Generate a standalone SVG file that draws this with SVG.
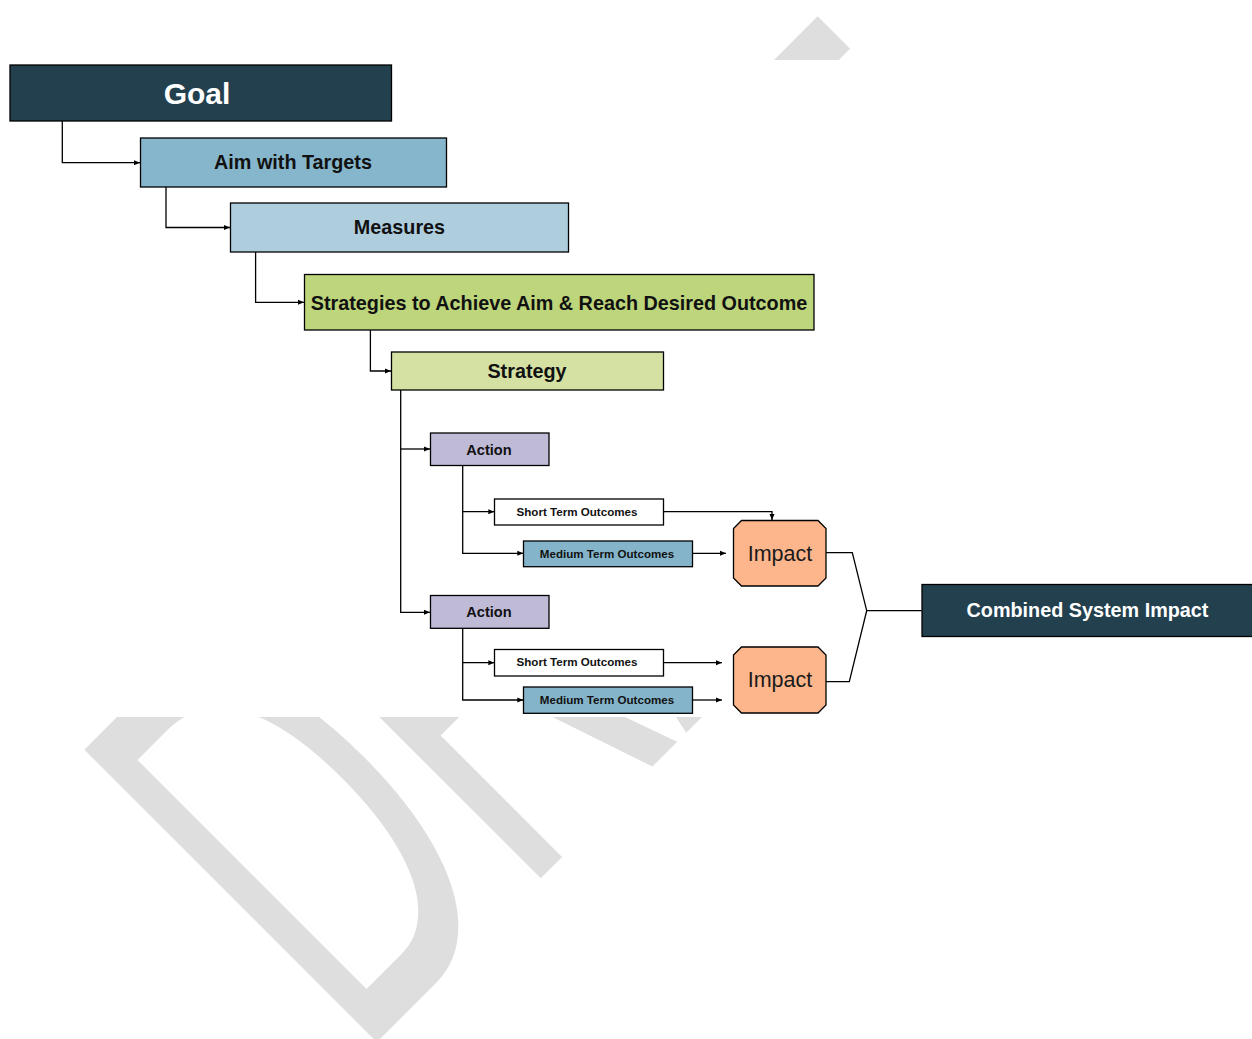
<svg xmlns="http://www.w3.org/2000/svg" width="1252" height="1039" viewBox="0 0 1252 1039">
<style>
.box{stroke:#000;stroke-width:1.3}
.t{font-family:"Liberation Sans",Arial,sans-serif;font-weight:bold;fill:#111;text-anchor:middle}
.w{fill:#fff}
.big{font-size:19.8px}
.act{font-size:14.6px}
.sm{font-size:11.6px}
.imp{font-family:"Liberation Sans",Arial,sans-serif;font-size:21.5px;fill:#1a1a1a;text-anchor:middle}
.c{fill:none;stroke:#000;stroke-width:1.3}
</style>
<defs>
<marker id="ah" markerUnits="userSpaceOnUse" markerWidth="7" markerHeight="6" refX="6" refY="3" orient="auto">
<path d="M0,0.5 L6,3 L0,5.5 z" fill="#000"/>
</marker>
</defs>
<rect x="0" y="0" width="1252" height="1039" fill="#fff"/>
<text transform="translate(358,1061) rotate(-45) scale(1,1.85)" font-family="Liberation Sans,Arial,sans-serif" font-size="325" letter-spacing="-3" fill="#dedede">DRAFT</text>
<rect x="0" y="60" width="1252" height="657" fill="#fff"/>
<g id="connectors">
<path class="c" d="M62.3 121 V162.7 H140" marker-end="url(#ah)"/>
<path class="c" d="M166 187 V227.5 H230" marker-end="url(#ah)"/>
<path class="c" d="M255.6 252 V302.3 H304" marker-end="url(#ah)"/>
<path class="c" d="M370.4 330 V371 H391" marker-end="url(#ah)"/>
<path class="c" d="M400.7 390 V612.3 H430" marker-end="url(#ah)"/>
<path class="c" d="M400.7 449 H430" marker-end="url(#ah)"/>
<path class="c" d="M462.7 465.7 V553.3 H523.3" marker-end="url(#ah)"/>
<path class="c" d="M462.7 511.7 H494.3" marker-end="url(#ah)"/>
<path class="c" d="M462.7 628.3 V700 H523.3" marker-end="url(#ah)"/>
<path class="c" d="M462.7 662.7 H494.3" marker-end="url(#ah)"/>
<path class="c" d="M663.7 511.7 H772 V520" marker-end="url(#ah)"/>
<path class="c" d="M692.7 553.3 H726" marker-end="url(#ah)"/>
<path class="c" d="M663.7 662.7 H722" marker-end="url(#ah)"/>
<path class="c" d="M692.7 700 H722" marker-end="url(#ah)"/>
<path class="c" d="M826 552.7 H852.3 L866.7 610.7 L849.3 681.7 H826"/>
<path class="c" d="M866.7 610.7 H921.7"/>
</g>
<g id="goal">
<rect class="box" x="10" y="65" width="381.5" height="56" fill="#23404f"/>
<text class="t w" x="197" y="103.5" font-size="30" style="fill:#fff">Goal</text>
</g>
<g id="aim">
<rect class="box" x="140.5" y="138" width="306" height="49" fill="#86b6cc"/>
<text class="t big" x="293" y="169.3">Aim with Targets</text>
</g>
<g id="measures">
<rect class="box" x="230.5" y="203" width="338" height="49" fill="#aecede"/>
<text class="t big" x="399.5" y="233.5">Measures</text>
</g>
<g id="strategies">
<rect class="box" x="304.5" y="274.5" width="509.5" height="55.5" fill="#bdd57b"/>
<text class="t big" x="559" y="310">Strategies to Achieve Aim &amp; Reach Desired Outcome</text>
</g>
<g id="strategy">
<rect class="box" x="391.5" y="352" width="272" height="38" fill="#d4e1a3"/>
<text class="t big" x="527" y="377.7">Strategy</text>
</g>
<g id="action1">
<rect class="box" x="430.5" y="433" width="118.5" height="32.5" fill="#bfbbd7"/>
<text class="t act" x="489" y="455">Action</text>
</g>
<g id="short1">
<rect class="box" x="494.5" y="499" width="169" height="26" fill="#fff"/>
<text class="t sm" x="577" y="515.7">Short Term Outcomes</text>
</g>
<g id="medium1">
<rect class="box" x="523.5" y="541" width="169" height="25.7" fill="#84b4ca"/>
<text class="t sm" x="607" y="557.5">Medium Term Outcomes</text>
</g>
<g id="impact1">
<polygon class="box" points="741.5,520.5 818,520.5 826,528.5 826,578 818,586 741.5,586 733.5,578 733.5,528.5" fill="#fdb68c"/>
<text class="imp" x="780" y="560.5">Impact</text>
</g>
<g id="action2">
<rect class="box" x="430.5" y="595.5" width="118.5" height="32.8" fill="#bfbbd7"/>
<text class="t act" x="489" y="617">Action</text>
</g>
<g id="short2">
<rect class="box" x="494.5" y="649.5" width="169" height="26.5" fill="#fff"/>
<text class="t sm" x="577" y="666.3">Short Term Outcomes</text>
</g>
<g id="medium2">
<rect class="box" x="523.5" y="687" width="169" height="26.3" fill="#84b4ca"/>
<text class="t sm" x="607" y="703.5">Medium Term Outcomes</text>
</g>
<g id="impact2">
<polygon class="box" points="741.5,647 818,647 826,655 826,705 818,713 741.5,713 733.5,705 733.5,655" fill="#fdb68c"/>
<text class="imp" x="780" y="687.2">Impact</text>
</g>
<g id="combined">
<rect class="box" x="922" y="584.5" width="332" height="52" fill="#23404f"/>
<text class="t big" x="1087.5" y="617.3" style="fill:#fff">Combined System Impact</text>
</g>
</svg>
